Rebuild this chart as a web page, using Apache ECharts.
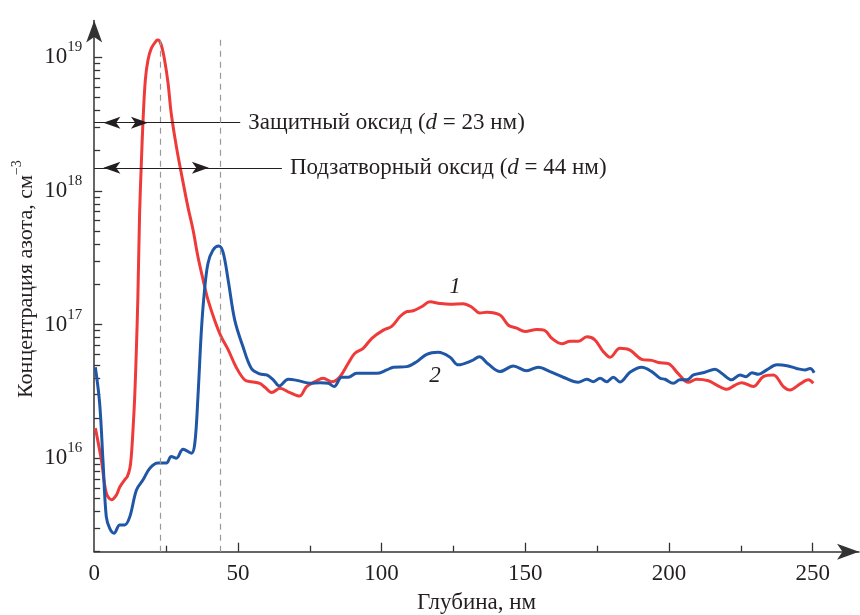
<!DOCTYPE html>
<html><head><meta charset="utf-8">
<script src="https://cdn.jsdelivr.net/npm/echarts@6/dist/echarts.min.js"></script>
<style>html,body{margin:0;padding:0;background:#fff}#c{width:860px;height:615px}</style>
</head><body><div id="c"></div>
<script>
// ---- data (depth in nm, nitrogen concentration in cm^-3) ----
const redDepth = [0.4,2.5,4.2,6.0,7.7,8.9,10.6,11.5,12.4,12.9,13.5,14.1,14.7,15.2,15.8,16.4,17.0,17.8,18.7,19.9,21.6,22.2,23.3,24.5,25.7,26.8,28.6,30.3,32.6,34.4,36.1,37.9,39.6,41.9,44.2,46.6,49.4,52.4,54.7,57.6,59.4,61.8,64.6,68.1,71.4,73.9,76.8,79.7,82.6,85.5,88.4,90.7,93.6,96.6,100.6,103.5,106.4,108.7,111.0,113.9,116.8,120.3,123.8,128.4,131.4,134.2,136.6,141.2,144.1,147.0,149.9,154.0,156.9,159.2,162.7,165.6,168.4,171.4,174.2,177.1,179.5,182.9,186.4,190.5,194.0,196.3,199.8,203.2,206.7,209.6,213.7,216.6,220.1,223.0,225.3,229.3,232.8,236.3,239.8,242.1,245.6,248.5,250.2];
const redConc = [1.68e16,9.7e15,5.5e15,4.9e15,5.3e15,6.1e15,6.9e15,7.3e15,8.4e15,1.03e16,1.63e16,2.9e16,6.8e16,1.62e17,6.8e17,1.61e18,3.4e18,6.8e18,9.5e18,1.17e19,1.33e19,1.35e19,1.24e19,9.5e18,6.4e18,3.8e18,2.14e18,1.36e18,7.6e17,5.1e17,3.22e17,2.16e17,1.53e17,1.08e17,8.1e16,6.5e16,4.8e16,3.85e16,3.74e16,3.64e16,3.4e16,3.1e16,3.34e16,3.1e16,2.92e16,3.44e16,3.74e16,3.97e16,3.74e16,4.08e16,5.14e16,6.1e16,6.65e16,7.9e16,9.1e16,9.7e16,1.15e17,1.25e17,1.27e17,1.36e17,1.48e17,1.44e17,1.42e17,1.43e17,1.35e17,1.22e17,1.24e17,1.18e17,9.9e16,9.4e16,8.9e16,9.2e16,9.0e16,7.9e16,7.2e16,7.5e16,7.5e16,8.1e16,7.7e16,6.3e16,5.7e16,6.65e16,6.45e16,5.5e16,5.4e16,5.2e16,5.1e16,4.3e16,3.7e16,3.9e16,3.8e16,3.53e16,3.28e16,3.53e16,3.68e16,3.44e16,4.08e16,4.2e16,3.44e16,3.24e16,3.6e16,3.86e16,3.64e16];
const blueDepth = [0.4,1.9,3.1,4.2,5.4,6.9,8.9,10.6,12.4,14.7,17.0,19.3,22.2,25.1,26.8,28.6,30.9,33.8,35.0,36.1,37.3,38.4,39.6,41.3,43.3,44.8,46.6,48.9,51.8,54.7,57.6,60.0,62.3,64.4,67.5,71.0,75.1,78.6,81.5,83.5,86.1,88.4,91.3,94.8,98.3,101.8,104.1,108.7,112.2,115.7,119.7,123.8,126.7,131.4,134.0,137.1,141.2,145.8,150.5,154.5,158.6,163.2,168.4,171.4,173.7,176.0,178.3,180.6,183.0,186.4,190.5,194.0,196.9,198.6,201.5,203.8,206.2,208.5,212.5,216.0,218.3,221.8,224.7,226.8,228.8,231.1,234.0,237.5,241.0,244.4,247.3,249.1,250.5];
const blueConc = [4.8e16,2.58e16,9.2e15,3.66e15,2.99e15,2.75e15,3.17e15,3.17e15,3.66e15,5.8e15,6.9e15,8.4e15,9.2e15,9.2e15,1.03e16,1.0e16,1.17e16,1.09e16,1.29e16,2.9e16,9.1e16,1.82e17,2.88e17,3.6e17,3.87e17,3.5e17,2.16e17,1.08e17,6.8e16,4.7e16,4.28e16,4.2e16,3.86e16,3.48e16,3.9e16,3.81e16,3.64e16,3.68e16,3.64e16,3.44e16,4.04e16,4.04e16,4.32e16,4.32e16,4.32e16,4.58e16,4.8e16,4.85e16,5.28e16,6.0e16,6.2e16,5.7e16,5.0e16,5.37e16,5.75e16,5.07e16,4.45e16,4.9e16,4.52e16,4.8e16,4.45e16,4.04e16,3.7e16,3.9e16,3.74e16,3.97e16,3.74e16,4.04e16,3.72e16,4.4e16,4.8e16,4.45e16,3.97e16,3.9e16,3.64e16,3.86e16,3.86e16,4.2e16,4.4e16,4.63e16,4.33e16,3.86e16,4.2e16,4.08e16,4.37e16,4.25e16,4.58e16,5.0e16,4.93e16,4.7e16,4.58e16,4.7e16,4.37e16];

const xLabelTicks = [0, 50, 100, 150, 200, 250];
const xMajorTicks = [50, 100, 150, 200, 250];
const xMinorTicks = [25, 75, 125, 175, 225];
const yMajorTicks = [1e16, 1e17, 1e18, 1e19];
const yMinorTicks = [2e15,3e15,4e15,5e15,6e15,7e15,8e15,9e15,
  2e16,3e16,4e16,5e16,6e16,7e16,8e16,9e16,
  2e17,3e17,4e17,5e17,6e17,7e17,8e17,9e17,
  2e18,3e18,4e18,5e18,6e18,7e18,8e18,9e18];
const oxideNames = ['Защитный оксид', 'Подзатворный оксид'];
const oxideThickness = [23, 44];
const curveNames = ['1', '2'];

const FONT = '"Liberation Serif", "DejaVu Serif", serif';
const TXT = '#231f20';
const AX = '#333333';
const X_MIN = 0, X_MAX = 266.1, Y_MIN = 2e15, Y_MAX = 1.885e19;
const gridPos = {left: 94.2, right: 1, top: 20.5, bottom: 63.3, containLabel: false, outerBoundsMode: 'none'};

const pairs = (xs, ys) => xs.map((x, i) => [x, ys[i]]);
const supFmt = v => '{b|10}{s|' + Math.round(Math.log10(v)) + '}';

// annotation helpers
const annY = [3.24e18, 1.49e18];        // heights of the two arrows
const annArrowEnd = [18.7, 39.9];       // arrow-head centre (tip touches the dashed line)
const annLineEnd = [50.8, 65.3];        // where the leader ends and the text begins
const dashTop = 1.39e19;

const markLines = [];
oxideThickness.forEach((d, i) => {
  markLines.push([
    {coord: [d, Y_MIN], symbol: 'none', lineStyle: {type: [6, 5], color: '#9a9a9a', width: 1.2}},
    {coord: [d, dashTop], symbol: 'none'}
  ]);
  markLines.push([
    {coord: [X_MIN, annY[i]], symbol: 'none', lineStyle: {type: 'solid', color: '#231f20', width: 1.2},
     label: {show: true, position: 'end', distance: 8,
       formatter: '{n|' + oxideNames[i] + ' (}{i|d}{n| = ' + d + ' нм)}',
       rich: {
         n: {fontFamily: FONT, fontSize: 23, color: TXT},
         i: {fontFamily: FONT, fontSize: 23, color: TXT, fontStyle: 'italic'}
       }}},
    {coord: [annLineEnd[i], annY[i]], symbol: 'none'}
  ]);
  markLines.push([
    {coord: [3.2, annY[i]], symbol: 'arrow', symbolSize: [9, 17], lineStyle: {type: 'solid', color: '#231f20', width: 1.2}},
    {coord: [annArrowEnd[i], annY[i]], symbol: 'arrow', symbolSize: [9, 17]}
  ]);
});

const chart = echarts.init(document.getElementById('c'), null, {renderer: 'canvas'});
chart.setOption({
  animation: false,
  backgroundColor: '#ffffff',
  grid: [
    Object.assign({}, gridPos),
    Object.assign({}, gridPos)
  ],
  xAxis: [
    {
      type: 'value', gridIndex: 0, min: X_MIN, max: X_MAX,
      axisLine: {show: true, onZero: false, symbol: ['none', 'arrow'], symbolSize: [12, 22],
        lineStyle: {color: AX, width: 1.5}},
      axisTick: {show: true, inside: true, length: 9, customValues: xMajorTicks,
        lineStyle: {color: AX, width: 1.3}},
      axisLabel: {show: true, customValues: xLabelTicks, margin: 11,
        fontFamily: FONT, fontSize: 23, color: TXT},
      splitLine: {show: false},
      name: 'Глубина, нм', nameLocation: 'middle', nameGap: 40, nameMoveOverlap: false,
      nameTextStyle: {fontFamily: FONT, fontSize: 23, color: TXT}
    },
    {
      type: 'value', gridIndex: 1, min: X_MIN, max: X_MAX,
      axisLine: {show: false, onZero: false},
      axisTick: {show: true, inside: true, length: 6, customValues: xMinorTicks,
        lineStyle: {color: AX, width: 1.3}},
      axisLabel: {show: false},
      splitLine: {show: false}
    }
  ],
  yAxis: [
    {
      type: 'log', logBase: 10, gridIndex: 0, min: Y_MIN, max: Y_MAX,
      axisLine: {show: true, onZero: false, symbol: ['none', 'arrow'], symbolSize: [12, 22],
        lineStyle: {color: AX, width: 1.5}},
      axisTick: {show: true, inside: true, length: 8, customValues: yMajorTicks,
        lineStyle: {color: AX, width: 1.3}},
      axisLabel: {show: true, customValues: yMajorTicks, margin: 12, formatter: supFmt,
        rich: {
          b: {fontFamily: FONT, fontSize: 23, color: TXT, lineHeight: 24},
          s: {fontFamily: FONT, fontSize: 15, color: TXT, lineHeight: 16, padding: [0, 0, 20, 0]}
        }},
      splitLine: {show: false},
      name: '{n|Концентрация азота, см}{s|−3}', nameLocation: 'middle', nameRotate: 90, nameGap: 56,
      nameMoveOverlap: false,
      nameTextStyle: {
        padding: [0, 0, 0, 14],
        rich: {
          n: {fontFamily: FONT, fontSize: 22, color: TXT, lineHeight: 24},
          s: {fontFamily: FONT, fontSize: 14, color: TXT, lineHeight: 14, padding: [0, 0, 18, 0]}
        }
      }
    },
    {
      type: 'log', logBase: 10, gridIndex: 1, min: Y_MIN, max: Y_MAX,
      axisLine: {show: false, onZero: false},
      axisTick: {show: true, inside: true, length: 6, customValues: yMinorTicks,
        lineStyle: {color: AX, width: 1.3}},
      axisLabel: {show: false},
      splitLine: {show: false}
    }
  ],
  series: [
    {
      name: curveNames[0], type: 'line', xAxisIndex: 0, yAxisIndex: 0,
      data: pairs(redDepth, redConc), showSymbol: false, symbol: 'none',
      smooth: 0.35,
      lineStyle: {color: '#ef3a3a', width: 3}, z: 3,
      markLine: {silent: true, animation: false, symbol: 'none', label: {show: false},
        emphasis: {disabled: true}, data: markLines},
      markPoint: {silent: true, symbol: 'circle', symbolSize: 0, animation: false,
        label: {show: true, position: 'inside', fontFamily: FONT, fontSize: 23, fontStyle: 'italic', color: TXT},
        data: [{coord: [125.5, 1.91e17], label: {formatter: curveNames[0]}}]}
    },
    {
      name: curveNames[1], type: 'line', xAxisIndex: 0, yAxisIndex: 0,
      data: pairs(blueDepth, blueConc), showSymbol: false, symbol: 'none',
      smooth: 0.35,
      lineStyle: {color: '#1f57a6', width: 3}, z: 4,
      markPoint: {silent: true, symbol: 'circle', symbolSize: 0, animation: false,
        label: {show: true, position: 'inside', fontFamily: FONT, fontSize: 23, fontStyle: 'italic', color: TXT},
        data: [{coord: [118.6, 4.13e16], label: {formatter: curveNames[1]}}]}
    }
  ]
});
</script>
</body></html>
